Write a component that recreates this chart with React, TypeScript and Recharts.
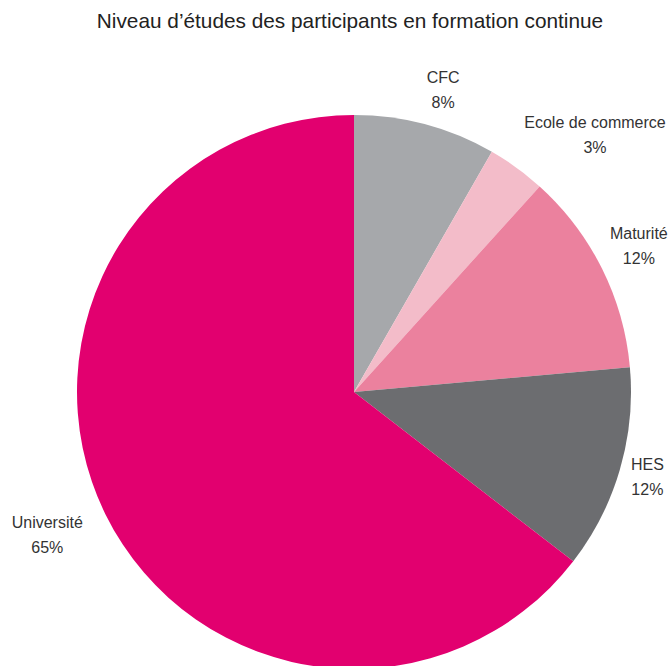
import { PieChart, Pie, Cell } from 'recharts'

const categories = ['CFC', 'Ecole de commerce', 'Maturité', 'HES', 'Université']
const shares = [8.3, 3.4, 11.9, 11.9, 64.6]
const percentLabels = ['8%', '3%', '12%', '12%', '65%']
const colors = ['#A6A8AB', '#F3BCC9', '#EB819E', '#6C6D70', '#E2006F']

const data = categories.map((name, i) => ({ name, value: shares[i], pct: percentLabels[i] }))

const W = 670
const H = 666
const CX = 354
const CY = 392
const R = 277
const FONT = 'Liberation Sans, Arial, Helvetica, sans-serif'

// small hand nudges so the labels sit where the original put them
const labelNudge: Record<string, [number, number]> = {
  CFC: [8, 2],
  'Ecole de commerce': [56, -2],
  'Maturité': [3, -5],
  HES: [-9, -3],
  'Université': [-24, 4],
}

const renderLabel = (props: any) => {
  const { cx, cy, midAngle, outerRadius, index } = props
  const rad = (Math.PI / 180) * midAngle
  const lr = outerRadius + 38
  const [dx, dy] = labelNudge[categories[index]] || [0, 0]
  const x = cx + lr * Math.cos(rad) + dx
  const y = cy - lr * Math.sin(rad) + dy
  return (
    <g>
      <text x={x} y={y - 12.5} textAnchor="middle" dominantBaseline="central" fill="#333" fontSize={16} fontFamily={FONT}>
        {categories[index]}
      </text>
      <text x={x} y={y + 12.5} textAnchor="middle" dominantBaseline="central" fill="#333" fontSize={16} fontFamily={FONT}>
        {percentLabels[index]}
      </text>
    </g>
  )
}

export default function App() {
  return (
    <div style={{ position: 'absolute', left: 0, top: 0, width: W, height: H, background: '#fff' }}>
      <div
        style={{
          position: 'absolute',
          top: 9,
          width: W,
          boxSizing: 'border-box',
          paddingLeft: 30,
          textAlign: 'center',
          fontFamily: FONT,
          fontSize: 20.8,
          color: '#222',
          lineHeight: '24px',
        }}
      >
        Niveau d’études des participants en formation continue
      </div>
      <PieChart width={W} height={H} margin={{ top: 0, right: 0, bottom: 0, left: 0 }}>
        <Pie
          data={data}
          dataKey="value"
          nameKey="name"
          cx={CX}
          cy={CY}
          outerRadius={R}
          startAngle={90}
          endAngle={-270}
          stroke="none"
          label={renderLabel}
          labelLine={false}
          isAnimationActive={false}
        >
          {data.map((d, i) => (
            <Cell key={d.name} fill={colors[i]} />
          ))}
        </Pie>
      </PieChart>
    </div>
  )
}
